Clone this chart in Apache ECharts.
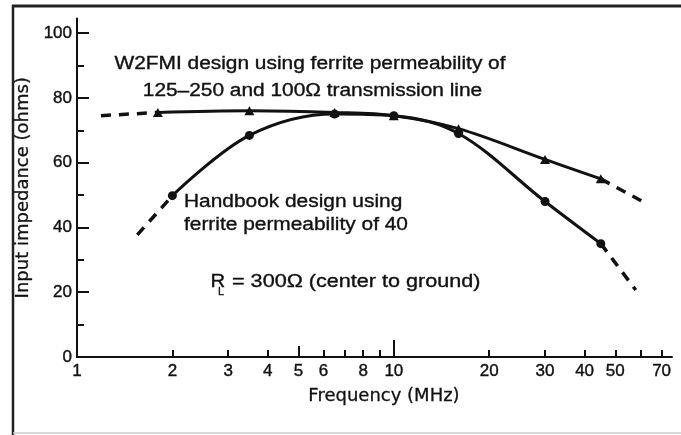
<!DOCTYPE html>
<html>
<head>
<meta charset="utf-8">
<script src="https://cdn.jsdelivr.net/npm/echarts@6/dist/echarts.min.js"></script>
<style>
  html, body { margin: 0; padding: 0; background: #fff; }
  #chart { width: 681px; height: 435px; }
</style>
</head>
<body>
<div id="chart"></div>
<script>
// Measured input impedance of two balun designs against frequency.
const freqW2FMI = [1.8, 3.5, 6.5, 10, 16, 30, 45];          // MHz
const zW2FMI    = [75.5, 76, 75.5, 74.5, 70.5, 61, 55];     // ohms
const freqHandbook = [2, 3.5, 6.5, 10, 16, 30, 45];
const zHandbook    = [49.8, 68.4, 75, 74.5, 69, 48, 35];

// Dashed extrapolations beyond the measured range.
const extW2FMILowF  = [1.19, 1.8];   const extW2FMILowZ  = [74.5, 75.5];
const extW2FMIHighF = [45, 61];      const extW2FMIHighZ = [55, 48];
const extHandbookLowF  = [1.55, 2];  const extHandbookLowZ  = [37.7, 49.8];
const extHandbookHighF = [45, 58];   const extHandbookHighZ = [35, 20.7];

// Axis ticks and labels.
const xLabelValues = [1, 2, 3, 4, 5, 6, 8, 10, 20, 30, 40, 50, 70];
const xMinorTicks  = [2, 3, 4, 6, 7, 8, 9, 20, 30, 40, 50, 60, 70];
const xMidTicks    = [5];
const xDecadeTicks = [10];
const yLabelValues = [0, 20, 40, 60, 80, 100];
const yMajorTicks  = [20, 40, 60, 80, 100];
const yMinorTicks  = [10, 30, 50, 70, 90];

const INK = '#111';
const FONT = 'Liberation Sans, Arial, sans-serif';

const pairs = (xs, ys) => xs.map((x, i) => [x, ys[i]]);

const xBase = {
  type: 'log', logBase: 10, min: 1, max: 75.5, position: 'bottom', offset: 0,
  splitLine: { show: false }, minorTick: { show: false }
};
const yBase = {
  type: 'value', min: 0, max: 104.5, position: 'left', offset: 0,
  splitLine: { show: false }
};

const tickLabelStyle = {
  fontFamily: FONT, fontSize: 17, color: INK,
  textBorderColor: INK, textBorderWidth: 0.4
};
const nameStyle = {
  fontFamily: 'DejaVu Sans', fontSize: 18, color: INK,
  textBorderColor: INK, textBorderWidth: 0.3
};

// Annotation text: Helvetica-like face, widened to the printed proportions.
function note(x, y, text, scaleX, size) {
  return {
    type: 'text', x: x, y: y, scaleX: scaleX || 1,
    style: {
      text: text, font: (size || 18) + 'px ' + FONT, fill: INK,
      stroke: INK, lineWidth: 0.35,
      textAlign: 'left', textVerticalAlign: 'bottom'
    }
  };
}
function centredNote(x, y, text, scaleX) {
  const n = note(x, y, text, scaleX);
  n.style.textAlign = 'center';
  return n;
}

const chart = echarts.init(document.getElementById('chart'), null, { renderer: 'canvas' });

chart.setOption({
  backgroundColor: '#fff',
  animation: false,
  grid: { left: 77, right: 9, top: 18.5, bottom: 78, containLabel: false },
  xAxis: [
    Object.assign({}, xBase, {
      name: 'Frequency (MHz)', nameLocation: 'middle', nameGap: 30,
      nameTextStyle: Object.assign({ padding: [0, 0, 0, 19] }, nameStyle),
      axisLine: { show: true, lineStyle: { color: INK, width: 2 } },
      axisTick: { show: true, inside: true, length: 7, customValues: xMinorTicks, lineStyle: { color: INK, width: 2 } },
      axisLabel: Object.assign({ show: true, customValues: xLabelValues, margin: 6 }, tickLabelStyle)
    }),
    Object.assign({}, xBase, {
      axisLine: { show: false }, axisLabel: { show: false },
      axisTick: { show: true, inside: true, length: 11, customValues: xMidTicks, lineStyle: { color: INK, width: 2 } }
    }),
    Object.assign({}, xBase, {
      axisLine: { show: false }, axisLabel: { show: false },
      axisTick: { show: true, inside: true, length: 17, customValues: xDecadeTicks, lineStyle: { color: INK, width: 2 } }
    })
  ],
  yAxis: [
    Object.assign({}, yBase, {
      name: 'Input impedance (ohms)', nameLocation: 'middle', nameGap: 34, nameRotate: 90,
      nameTextStyle: nameStyle,
      axisLine: { show: true, lineStyle: { color: INK, width: 2 } },
      axisTick: { show: true, inside: true, length: 12, customValues: yMajorTicks, lineStyle: { color: INK, width: 2 } },
      axisLabel: Object.assign({ show: true, customValues: yLabelValues, margin: 5 }, tickLabelStyle)
    }),
    Object.assign({}, yBase, {
      axisLine: { show: false }, axisLabel: { show: false },
      axisTick: { show: true, inside: true, length: 7, customValues: yMinorTicks, lineStyle: { color: INK, width: 2 } }
    })
  ],
  series: [
    {
      name: 'W2FMI', type: 'line', smooth: 0.35, data: pairs(freqW2FMI, zW2FMI),
      symbol: 'triangle', symbolSize: [10, 9], itemStyle: { color: INK },
      lineStyle: { color: INK, width: 3 }, z: 3
    },
    {
      name: 'Handbook', type: 'line', smooth: 0.35, data: pairs(freqHandbook, zHandbook),
      symbol: 'circle', symbolSize: 9, itemStyle: { color: INK },
      lineStyle: { color: INK, width: 3 }, z: 3
    },
    { type: 'line', data: pairs(extW2FMILowF, extW2FMILowZ), symbol: 'none', lineStyle: { color: INK, width: 3.5, type: [10, 8] } },
    { type: 'line', data: pairs(extW2FMIHighF, extW2FMIHighZ), symbol: 'none', lineStyle: { color: INK, width: 3.5, type: [10, 8] } },
    { type: 'line', data: pairs(extHandbookLowF, extHandbookLowZ), symbol: 'none', lineStyle: { color: INK, width: 3.5, type: [10, 8] } },
    { type: 'line', data: pairs(extHandbookHighF, extHandbookHighZ), symbol: 'none', lineStyle: { color: INK, width: 3.5, type: [10, 8] } }
  ],
  graphic: [
    // frame around the figure
    { type: 'line', shape: { x1: 12, y1: 6, x2: 681, y2: 6 }, style: { stroke: '#222', lineWidth: 3 } },
    { type: 'line', shape: { x1: 13, y1: 5, x2: 13, y2: 435 }, style: { stroke: '#222', lineWidth: 2.5 } },
    { type: 'line', shape: { x1: 13, y1: 433, x2: 681, y2: 433 }, style: { stroke: '#ccc', lineWidth: 1.5 } },
    // annotations
    centredNote(310, 73.5, 'W2FMI design using ferrite permeability of', 1.16),
    centredNote(312.5, 100, '125–250 and 100Ω transmission line', 1.16),
    note(184, 211.5, 'Handbook design using', 1.16),
    note(184, 234.5, 'ferrite permeability of 40', 1.16),
    note(210.5, 291, 'R', 1.13),
    note(218, 297, 'L', 1, 11),
    note(232, 291, '= 300Ω (center to ground)', 1.2)
  ]
});
</script>
</body>
</html>
